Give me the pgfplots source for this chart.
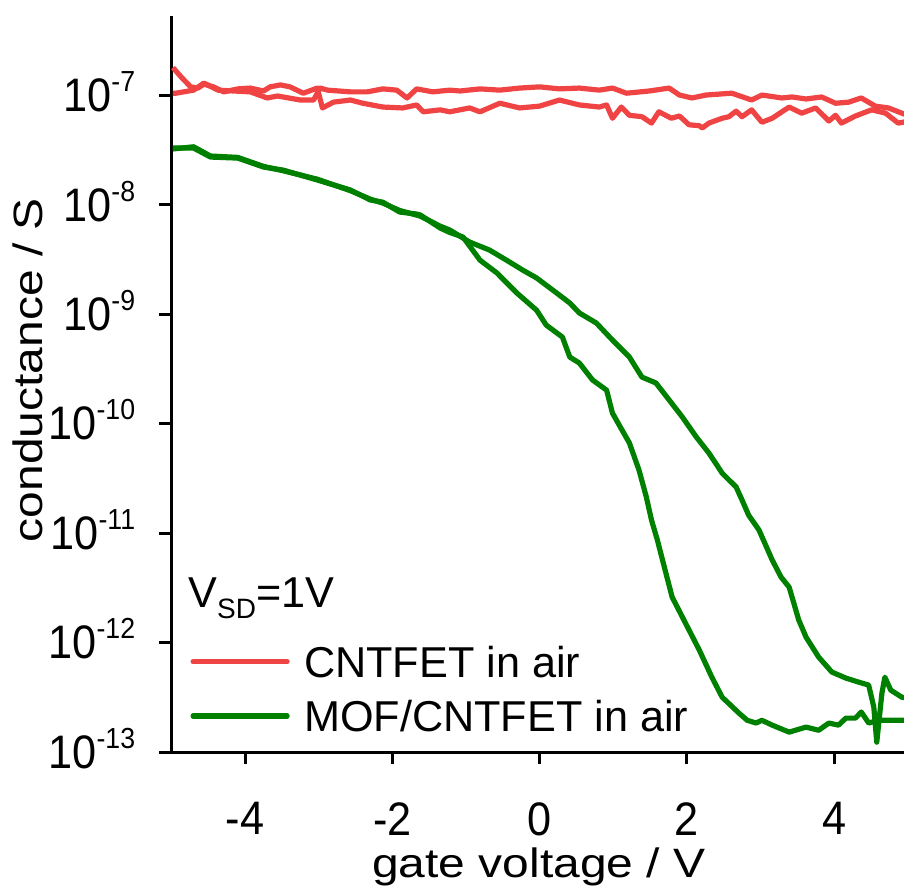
\documentclass[border=0pt]{standalone}
\usepackage{fontspec}
\setmainfont{Liberation Sans}
\newfontfamily\tickfont[FakeStretch=0.92]{Liberation Sans}
\newfontfamily\labelfont[FakeStretch=1.17]{Liberation Sans}
\usepackage{pgfplots}
\pgfplotsset{compat=1.18}
\definecolor{cred}{RGB}{240,68,68}
\definecolor{cgreen}{RGB}{0,128,0}
\newcommand{\tl}[1]{{\tickfont\fontsize{23.5}{28}\selectfont 10\smash{\raisebox{10pt}{\fontsize{14.5}{14.5}\selectfont -#1}}}}
\begin{document}
\begin{tikzpicture}
\begin{axis}[name=ax,
  width=366.25pt, height=368pt, scale only axis,
  xmin=-5, xmax=4.95, ymin=1e-13, ymax=5.33e-7, ymode=log,
  axis x line*=bottom, axis y line*=left,
  axis line style={line width=1.5pt, black},
  tick style={line width=1.5pt, black},
  major tick length=6pt, tick align=outside,
  xtick={-4,-2,0,2,4}, xticklabels={-4,-2,0,2,4},
  ytick={1e-13,1e-12,1e-11,1e-10,1e-9,1e-8,1e-7},
  yticklabels={\tl{13},\tl{12},\tl{11},\tl{10},\tl{9},\tl{8},\tl{7}},
  yminorticks=false, xminorticks=false,
  xticklabel style={font=\tickfont\fontsize{23.5}{28}\selectfont, inner sep=0pt, anchor=north, yshift=-19pt},
  yticklabel style={inner sep=0pt, anchor=east, xshift=-12pt},
  xlabel={gate voltage / V},
  xlabel style={font=\labelfont\fontsize{20.5}{24}\selectfont, at={(axis description cs:0.5017,-0.1708)}, anchor=base, inner sep=0pt},
  ylabel={conductance / S},
  ylabel style={font=\labelfont\fontsize{20.5}{24}\selectfont, at={(axis description cs:-0.1761,0.519)}, anchor=base, inner sep=0pt},
  legend style={at={(axis description cs:0.02594,0.1440)}, anchor=north west, draw=none, fill=none,
    inner sep=0pt, outer sep=0pt, row sep=11.5pt, column sep=7.25pt,
    font=\fontsize{21.6}{26}\selectfont, nodes={inner sep=0pt, text depth=0pt}},
  legend cell align=left,
  legend image code/.code={\draw[#1, line cap=round, line width=2.6pt] (0pt,0pt) -- (47pt,0pt);},
]
\addplot[cred, line width=2.6pt, line join=round] coordinates {
(-4.98,1.80e-7) (-4.87,1.48e-7) (-4.74,1.20e-7) (-4.64,1.17e-7) (-4.56,1.27e-7) (-4.43,1.20e-7) (-4.29,1.08e-7) (-4.10,1.15e-7) (-3.93,1.17e-7) (-3.75,1.10e-7) (-3.66,1.20e-7) (-3.52,1.25e-7) (-3.39,1.20e-7) (-3.21,1.05e-7) (-3.02,1.17e-7) (-2.95,0.77e-7) (-2.80,0.87e-7) (-2.57,0.91e-7) (-2.40,0.85e-7) (-2.13,0.785e-7) (-1.86,0.77e-7) (-1.67,0.82e-7) (-1.58,0.71e-7) (-1.35,0.74e-7) (-1.22,0.71e-7) (-0.95,0.77e-7) (-0.81,0.71e-7) (-0.54,0.85e-7) (-0.27,0.77e-7) (0,0.80e-7) (0.27,0.91e-7) (0.54,0.82e-7) (0.81,0.785e-7) (0.91,0.82e-7) (0.99,0.62e-7) (1.11,0.785e-7) (1.22,0.66e-7) (1.39,0.64e-7) (1.52,0.56e-7) (1.62,0.71e-7) (1.79,0.62e-7) (1.90,0.65e-7) (2.03,0.54e-7) (2.17,0.53e-7) (2.21,0.505e-7) (2.30,0.56e-7) (2.48,0.62e-7) (2.57,0.64e-7) (2.67,0.72e-7) (2.75,0.64e-7) (2.88,0.74e-7) (3.02,0.57e-7) (3.16,0.62e-7) (3.39,0.785e-7) (3.56,0.69e-7) (3.75,0.77e-7) (3.93,0.585e-7) (4.02,0.66e-7) (4.10,0.56e-7) (4.29,0.65e-7) (4.51,0.74e-7) (4.70,0.69e-7) (4.87,0.56e-7) (5.0,0.58e-7)
};
\addlegendentry{CNTFET in air}
\addplot[cred, line width=2.6pt, line join=round, forget plot] coordinates {
(5.0,0.66e-7) (4.92,0.69e-7) (4.74,0.77e-7) (4.56,0.80e-7) (4.37,0.95e-7) (4.20,0.87e-7) (4.02,0.85e-7) (3.83,0.97e-7) (3.62,0.93e-7) (3.43,0.97e-7) (3.29,0.95e-7) (3.02,1.01e-7) (2.88,0.91e-7) (2.61,1.05e-7) (2.26,1.01e-7) (2.07,0.95e-7) (1.90,1.01e-7) (1.76,1.17e-7) (1.49,1.10e-7) (1.18,1.05e-7) (0.99,1.17e-7) (0.81,1.12e-7) (0.54,1.17e-7) (0.27,1.15e-7) (0,1.20e-7) (-0.27,1.17e-7) (-0.54,1.12e-7) (-0.81,1.15e-7) (-1.08,1.10e-7) (-1.22,1.12e-7) (-1.45,1.08e-7) (-1.67,1.15e-7) (-1.80,0.95e-7) (-1.94,1.12e-7) (-2.13,1.15e-7) (-2.34,1.08e-7) (-2.57,1.08e-7) (-2.88,1.12e-7) (-2.98,1.17e-7) (-3.07,0.91e-7) (-3.25,0.91e-7) (-3.56,0.99e-7) (-3.70,0.95e-7) (-3.93,1.08e-7) (-4.37,1.12e-7) (-4.56,1.30e-7) (-4.70,1.12e-7) (-4.94,1.05e-7) (-4.98,1.05e-7)
};
\addplot[cgreen, line width=2.6pt, line join=round] coordinates {
(-4.98,3.31e-8) (-4.70,3.31e-8) (-4.47,2.74e-8) (-4.10,2.68e-8) (-3.75,2.22e-8) (-3.48,2.08e-8) (-3.02,1.69e-8) (-2.57,1.37e-8) (-2.30,1.11e-8) (-2.13,1.06e-8) (-1.90,8.61e-9) (-1.67,8.26e-9) (-1.62,8.09e-9) (-1.35,6.15e-9) (-1.22,5.6e-9) (-1.04,5.09e-9) (-0.81,3.13e-9) (-0.58,2.39e-9) (-0.31,1.57e-9) (-0.04,1.09e-9) (0.09,7.98e-10) (0.31,6.20e-10) (0.41,4.07e-10) (0.54,3.59e-10) (0.72,2.51e-10) (0.91,2.03e-10) (0.99,1.25e-10) (1.22,6.67e-11) (1.35,3.78e-11) (1.45,2.14e-11) (1.52,1.32e-11) (1.60,8.65e-12) (1.67,5.68e-12) (1.80,2.61e-12) (1.94,1.71e-12) (2.17,8.53e-13) (2.34,4.83e-13) (2.48,3.17e-13) (2.71,2.26e-13) (2.82,1.95e-13) (2.94,1.84e-13) (3.02,1.95e-13) (3.16,1.76e-13) (3.39,1.52e-13) (3.62,1.69e-13) (3.79,1.58e-13) (3.93,1.84e-13) (4.06,1.76e-13) (4.16,2.04e-13) (4.29,2.04e-13) (4.37,2.32e-13) (4.47,1.84e-13) (4.60,1.95e-13) (4.74,1.95e-13) (4.92,1.95e-13) (5.0,1.95e-13)
};
\addlegendentry{MOF/CNTFET in air}
\addplot[cgreen, line width=2.6pt, line join=round, forget plot] coordinates {
(5.0,3.1e-13) (4.92,3.17e-13) (4.77,3.68e-13) (4.69,4.83e-13) (4.65,3.45e-13) (4.58,1.23e-13) (4.54,2.57e-13) (4.47,4.09e-13) (4.33,4.36e-13) (4.16,4.74e-13) (3.97,5.38e-13) (3.79,7.38e-13) (3.62,1.12e-12) (3.52,1.61e-12) (3.39,3.21e-12) (3.28,3.97e-12) (3.16,5.68e-12) (2.98,1.07e-11) (2.84,1.46e-11) (2.75,2.01e-11) (2.67,2.64e-11) (2.48,3.54e-11) (2.30,5.40e-11) (2.13,7.55e-11) (1.94,1.15e-10) (1.76,1.65e-10) (1.58,2.36e-10) (1.39,2.67e-10) (1.22,4.07e-10) (0.99,5.82e-10) (0.77,8.34e-10) (0.54,1.03e-9) (0.41,1.27e-9) (0.23,1.57e-9) (-0.04,2.15e-9) (-0.23,2.54e-9) (-0.45,3.13e-9) (-0.68,3.87e-9) (-0.95,4.58e-9) (-1.22,5.9e-9) (-1.35,6.4e-9) (-1.62,7.9e-9) (-1.90,8.9e-9) (-2.13,1.04e-8) (-2.30,1.13e-8) (-2.57,1.35e-8) (-3.02,1.72e-8) (-3.48,2.05e-8) (-3.75,2.25e-8) (-4.10,2.72e-8) (-4.47,2.80e-8) (-4.70,3.40e-8) (-4.98,3.25e-8)
};
\node[anchor=base west, inner sep=0pt, font=\fontsize{21.6}{26}\selectfont] at (axis description cs:0.02253,0.1970) {V\raisebox{-5.5pt}{\fontsize{14}{14}\selectfont SD}=1V};
\end{axis}
\pgfresetboundingbox
\path[use as bounding box] ([shift={(-85.75pt,-70.5pt)}]ax.south west) rectangle ([shift={(0pt,8pt)}]ax.north east);
\end{tikzpicture}
\end{document}
